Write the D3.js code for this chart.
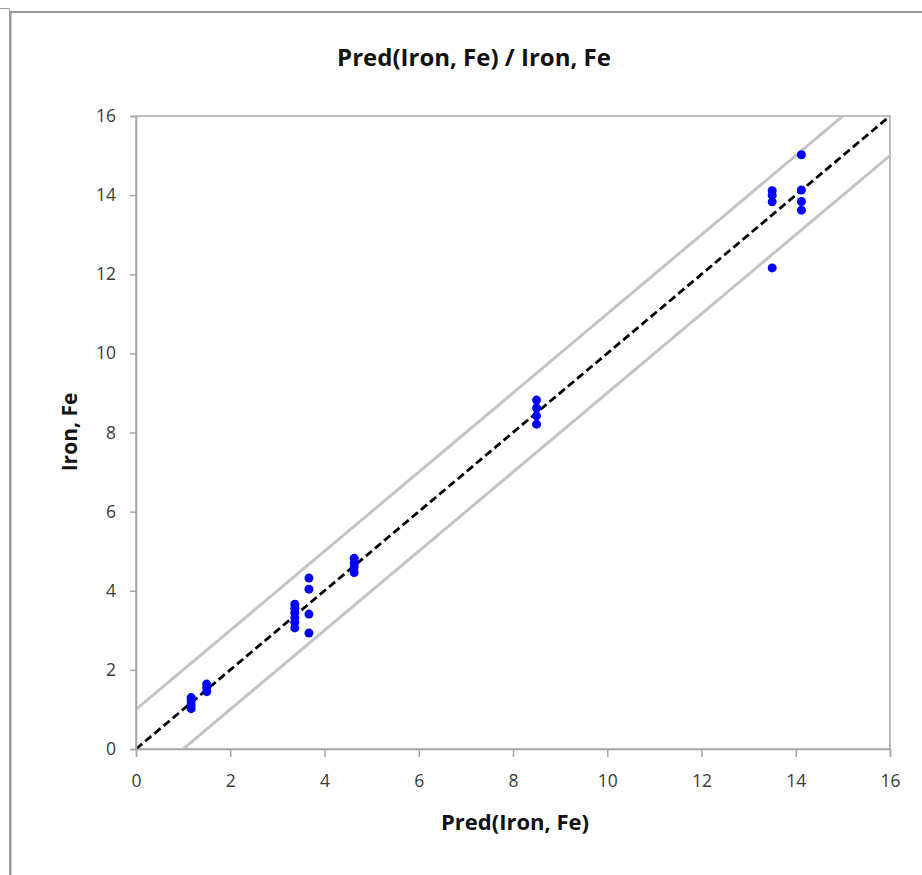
<!DOCTYPE html>
<html><head><meta charset="utf-8">
<script src="https://cdn.jsdelivr.net/npm/d3@7"></script>
<style>body{margin:0;background:#fff}</style>
</head><body>
<svg id="c" width="922" height="875"></svg>
<script>
const predX = [1.17,1.17,1.17,1.17, 1.5,1.5,1.5,
  3.37,3.37,3.37,3.37,3.37,3.37, 3.67,3.67,3.67,3.67,
  4.63,4.63,4.63,4.63, 8.5,8.5,8.5,8.5,
  13.5,13.5,13.5,13.5, 14.12,14.12,14.12,14.12];
const ironY = [1.02,1.12,1.22,1.3, 1.45,1.55,1.64,
  3.66,3.56,3.45,3.32,3.2,3.06, 4.32,4.04,3.41,2.93,
  4.82,4.7,4.6,4.46, 8.82,8.62,8.42,8.21,
  14.11,14.0,13.83,12.16, 15.02,14.13,13.84,13.62];
const ticks = [0,2,4,6,8,10,12,14,16];
const bandOffset = 1;
const titleText = "Pred(Iron, Fe) / Iron, Fe";
const xTitle = "Pred(Iron, Fe)";
const yTitle = "Iron, Fe";

const svg = d3.select("#c");
const L=136,R=890,T=116,B=749;
const x = d3.scaleLinear().domain([0,16]).range([L,R]);
const y = d3.scaleLinear().domain([0,16]).range([B,T]);
const font = "'Open Sans', sans-serif";

// outer frame
svg.append("path").attr("d","M0,8.5H9.5V875").attr("fill","none").attr("stroke","#a0a0a0").attr("stroke-width",1);
svg.append("path").attr("d","M10.5,875V12H922").attr("fill","none").attr("stroke","#999").attr("stroke-width",2);

// plot box
svg.append("rect").attr("x",L).attr("y",T).attr("width",R-L).attr("height",B-T)
  .attr("fill","none").attr("stroke","#a6a6a6").attr("stroke-width",1.5);

svg.append("clipPath").attr("id","pc").append("rect").attr("x",L).attr("y",T).attr("width",R-L).attr("height",B-T);
const g = svg.append("g").attr("clip-path","url(#pc)");
const line = d3.line().x(d=>x(d[0])).y(d=>y(d[1]));
g.append("path").attr("d",line([[0,bandOffset],[16,16+bandOffset]])).attr("stroke","#c4c4c4").attr("stroke-width",3).attr("fill","none");
g.append("path").attr("d",line([[0,-bandOffset],[16,16-bandOffset]])).attr("stroke","#c4c4c4").attr("stroke-width",3).attr("fill","none");
g.append("path").attr("d",line([[0,0],[16,16]])).attr("stroke","#000").attr("stroke-width",2.8).attr("stroke-dasharray","8,4").attr("fill","none");

// axes
const xa = svg.append("g").attr("transform",`translate(0,${B})`).call(d3.axisBottom(x).tickValues(ticks).tickSize(8).tickFormat(d3.format("d")));
const ya = svg.append("g").attr("transform",`translate(${L},0)`).call(d3.axisLeft(y).tickValues(ticks).tickSize(6).tickFormat(d3.format("d")));
[xa,ya].forEach(a=>{a.select(".domain").attr("stroke","#a6a6a6").attr("stroke-width",1.5);
  a.selectAll(".tick line").attr("stroke","#a6a6a6").attr("stroke-width",1.5);
  a.selectAll("text").attr("font-family",font).attr("font-size",17.5).attr("fill","#3a3a3a");});
xa.selectAll("text").attr("y",38).attr("dy",0);
ya.selectAll("text").attr("x",-20);

// points
svg.append("g").selectAll("circle").data(predX.map((v,i)=>[v,ironY[i]])).join("circle")
  .attr("cx",d=>x(d[0])).attr("cy",d=>y(d[1])).attr("r",4.5).attr("fill","#0000ff");

svg.append("text").attr("x",474).attr("y",66).attr("text-anchor","middle").attr("font-family",font)
  .attr("font-weight","bold").attr("font-size",24).attr("fill","#111").text(titleText);
svg.append("text").attr("x",515).attr("y",830).attr("text-anchor","middle").attr("font-family",font)
  .attr("font-weight","bold").attr("font-size",22).attr("fill","#111").text(xTitle);
svg.append("text").attr("transform","translate(77,432) rotate(-90)").attr("text-anchor","middle").attr("font-family",font)
  .attr("font-weight","bold").attr("font-size",21).attr("fill","#111").text(yTitle);
</script>
</body></html>
